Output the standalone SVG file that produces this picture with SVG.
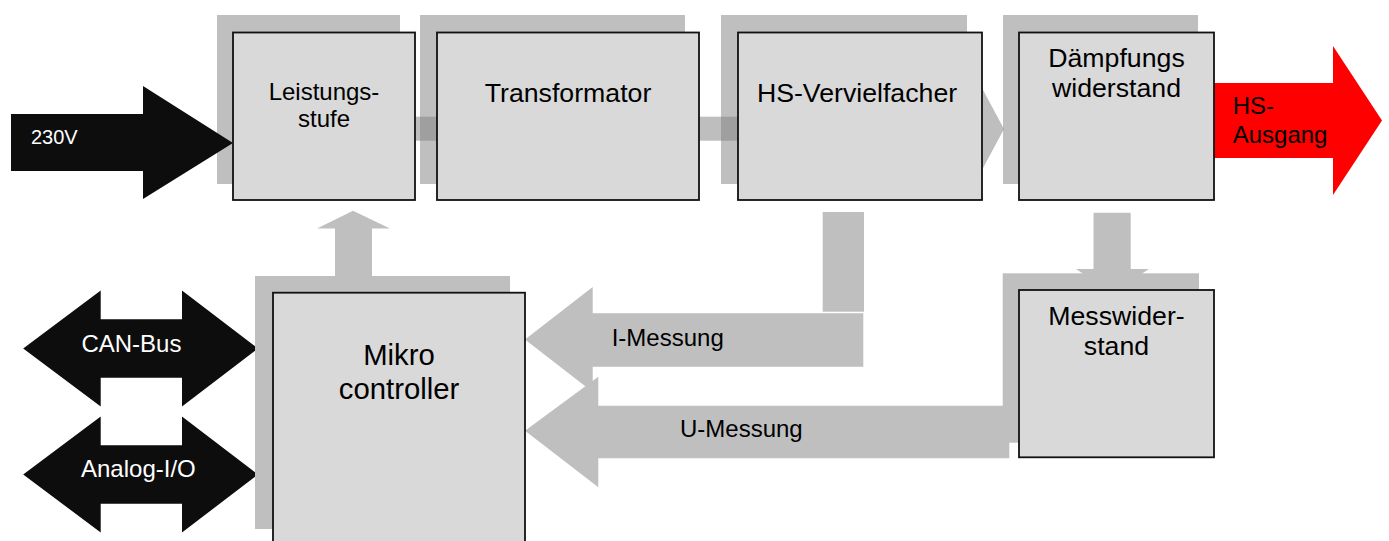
<svg xmlns="http://www.w3.org/2000/svg" width="1389" height="541" viewBox="0 0 1389 541">
<style>
.sh{fill:#bfbfbf}
.bx{fill:#d9d9d9;stroke:#111;stroke-width:1.8}
.band{fill:#838383;fill-opacity:0.52}
.gr{fill:#bfbfbf}
.blk{fill:#0d0d0d}
.t{font-family:"Liberation Sans",Arial,sans-serif;fill:#000}
.w{font-family:"Liberation Sans",Arial,sans-serif;fill:#fff}
</style>
<rect width="1389" height="541" fill="#fff"/>
<g id="shadows">
<rect class="sh" x="217" y="15" width="183" height="169"/>
<rect class="sh" x="420" y="15" width="265" height="169"/>
<rect class="sh" x="721" y="15" width="246" height="169"/>
<rect class="sh" x="1003" y="15" width="195" height="169"/>
</g>
<g id="connectors">
<rect class="band" x="416" y="116.7" width="21" height="24"/>
<rect class="band" x="699" y="116.7" width="39" height="24"/>
<polygon class="band" points="975,75 1004,129 975,183"/>
<polygon class="gr" points="1093.5,212.7 1130.7,212.7 1130.7,269 1149,269 1112,293 1076,269 1093.5,269"/>
<polygon class="gr" points="335,277 335,228.5 317,228.5 353,210.7 390,228.5 372,228.5 372,277"/>
<rect class="gr" x="822.7" y="212" width="41.3" height="99.7"/>
<polygon class="gr" points="525,339.5 592.7,287 592.7,313.3 863.3,313.3 863.3,366.7 592.7,366.7 592.7,392"/>
<polygon class="gr" points="525,430.7 598.3,376.7 598.3,405.8 1009.3,405.8 1009.3,458.3 598.3,458.3 598.3,487.3"/>
<polygon class="blk" points="11,114 143,114 143,86 233,143 143,199 143,171 11,171"/>
<polygon fill="#ff0000" points="1214,83 1333,83 1333,46 1382,120.5 1333,195 1333,158 1214,158"/>
<polygon class="blk" points="23.2,348.5 100.7,290.5 100.7,319.3 182,319.3 182,290.5 258,348.5 182,406.5 182,377.7 100.7,377.7 100.7,406.5"/>
<polygon class="blk" points="23.2,474.5 100.7,416.5 100.7,445.3 182,445.3 182,416.5 258,474.5 182,532.5 182,503.7 100.7,503.7 100.7,532.5"/>
</g>
<g id="leistungsstufe">
<rect class="bx" x="233" y="32.5" width="182" height="167.5"/>
<text class="t" x="324" y="100" font-size="24" text-anchor="middle">Leistungs-</text>
<text class="t" x="324" y="126.7" font-size="24" text-anchor="middle">stufe</text>
</g>
<g id="transformator">
<rect class="bx" x="437" y="32.5" width="262" height="167.5"/>
<text class="t" x="568" y="102" font-size="26.7" text-anchor="middle">Transformator</text>
</g>
<g id="hs-vervielfacher">
<rect class="bx" x="738" y="32.5" width="244" height="167.5"/>
<text class="t" x="857" y="102" font-size="26.7" text-anchor="middle">HS-Vervielfacher</text>
</g>
<g id="daempfungswiderstand">
<rect class="bx" x="1019" y="32.5" width="195" height="167.5"/>
<text class="t" x="1116.5" y="66.7" font-size="26.7" text-anchor="middle">Dämpfungs</text>
<text class="t" x="1116.5" y="97.3" font-size="26.7" text-anchor="middle">widerstand</text>
</g>
<g id="hs-ausgang">
<text class="t" x="1232.7" y="114" font-size="24">HS-</text>
<text class="t" x="1232.7" y="142.5" font-size="24">Ausgang</text>
</g>
<g id="input-230v">
<text class="w" x="31" y="144" font-size="20">230V</text>
</g>
<g id="mikrocontroller">
<rect class="sh" x="255" y="276" width="255" height="253"/>
<rect class="bx" x="273" y="292.7" width="252" height="270"/>
<text class="t" x="399" y="365" font-size="29.3" text-anchor="middle">Mikro</text>
<text class="t" x="399" y="398.5" font-size="29.3" text-anchor="middle">controller</text>
</g>
<g id="messwiderstand">
<rect class="sh" x="1002.7" y="273.3" width="196.3" height="169.4"/>
<rect class="bx" x="1019" y="290" width="195" height="167.3"/>
<text class="t" x="1116.5" y="325" font-size="26.7" text-anchor="middle">Messwider-</text>
<text class="t" x="1116.5" y="355" font-size="26.7" text-anchor="middle">stand</text>
</g>
<g id="labels">
<text class="t" x="611.7" y="345.7" font-size="24">I-Messung</text>
<text class="t" x="680" y="436.7" font-size="24">U-Messung</text>
<text class="w" x="81.4" y="351.7" font-size="24">CAN-Bus</text>
<text class="w" x="81" y="477" font-size="24">Analog-I/O</text>
</g>
</svg>
